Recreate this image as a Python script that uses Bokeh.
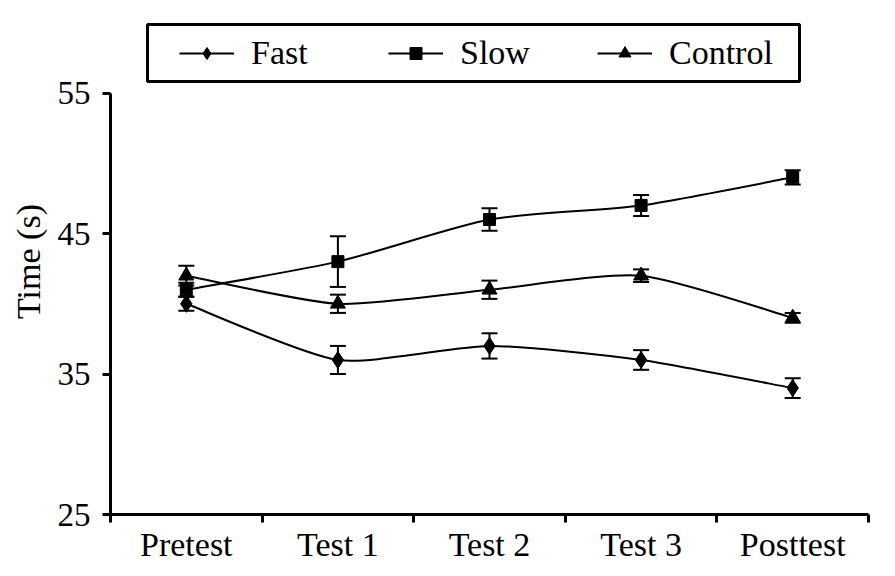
import numpy as np
from bokeh.plotting import figure
from bokeh.models import (Range1d, FixedTicker, LinearAxis, Whisker, TeeHead,
                          ColumnDataSource, Legend, LegendItem, BoxAnnotation)
from bokeh.embed import file_html
from bokeh.resources import INLINE

# ---- data ----
categories = ["Pretest", "Test 1", "Test 2", "Test 3", "Posttest"]
fast = [40.0, 36.0, 37.0, 36.0, 34.0]
fast_err = [0.5, 1.0, 0.9, 0.7, 0.7]
slow = [41.0, 43.0, 46.0, 47.0, 49.0]
slow_err = [0.5, 1.8, 0.8, 0.75, 0.5]
control = [42.0, 40.0, 41.0, 42.0, 39.0]
control_err = [0.7, 0.65, 0.65, 0.45, 0.35]
y_ticks = [25, 35, 45, 55]

FONT = "Liberation Serif"
xpos = np.arange(len(categories)) + 0.5

p = figure(width=885, height=566, output_backend="svg", toolbar_location=None,
           x_range=Range1d(0, len(categories)), y_range=Range1d(25, 61.02),
           min_border_left=110, min_border_right=17, min_border_top=8,
           min_border_bottom=52, x_axis_type=None, y_axis_type=None)
p.outline_line_color = None
p.background_fill_color = "white"

# y axis
yaxis = LinearAxis(ticker=FixedTicker(ticks=y_ticks, minor_ticks=[]),
                   bounds=(y_ticks[0], y_ticks[-1]), axis_label="Time (s)")
yaxis.axis_line_width = 3
yaxis.major_tick_line_width = 3
yaxis.major_tick_out = 8
yaxis.major_tick_in = 0
yaxis.minor_tick_out = 0
yaxis.minor_tick_in = 0
yaxis.major_label_standoff = 12
yaxis.major_label_text_font = FONT
yaxis.major_label_text_font_size = "33px"
yaxis.major_label_text_color = "black"
yaxis.axis_label_text_font = FONT
yaxis.axis_label_text_font_size = "34px"
yaxis.axis_label_text_font_style = "normal"
yaxis.axis_label_text_color = "black"
yaxis.axis_label_standoff = 8
p.add_layout(yaxis, "left")

# x axis: labels at category centres, ticks at category boundaries
xaxis = LinearAxis(ticker=FixedTicker(ticks=list(xpos),
                                      minor_ticks=list(range(len(categories) + 1))))
xaxis.major_label_overrides = {float(x): c for x, c in zip(xpos, categories)}
xaxis.axis_line_width = 3
xaxis.major_tick_out = 0
xaxis.major_tick_in = 0
xaxis.minor_tick_out = 8
xaxis.minor_tick_in = 0
xaxis.minor_tick_line_width = 3
xaxis.minor_tick_line_color = "black"
xaxis.major_label_standoff = 3
xaxis.major_label_text_font = FONT
xaxis.major_label_text_font_size = "34px"
xaxis.major_label_text_color = "black"
p.add_layout(xaxis, "below")

TENSION = 1.0 / 9.0


def smooth_segments(y):
    P = np.column_stack([xpos, np.asarray(y, dtype=float)])
    n = len(P)
    ext = np.vstack([P[0], P, P[-1]])
    c0 = P[:-1] + (ext[2:n + 1] - ext[0:n - 1]) * TENSION
    c1 = P[1:] - (ext[3:n + 2] - ext[1:n]) * TENSION
    return dict(x0=P[:-1, 0], y0=P[:-1, 1], x1=P[1:, 0], y1=P[1:, 1],
                cx0=c0[:, 0], cy0=c0[:, 1], cx1=c1[:, 0], cy1=c1[:, 1])


series = [
    ("Fast", fast, fast_err, dict(marker="diamond", size=17)),
    ("Slow", slow, slow_err, dict(marker="square", size=12)),
    ("Control", control, control_err, dict(marker="triangle", size=15)),
]

items = []
for name, vals, errs, mk in series:
    seg = ColumnDataSource(smooth_segments(vals))
    br = p.bezier(x0="x0", y0="y0", x1="x1", y1="y1", cx0="cx0", cy0="cy0",
                  cx1="cx1", cy1="cy1", source=seg, line_color="black", line_width=2)
    src = ColumnDataSource(dict(x=xpos, y=vals,
                                lower=np.array(vals) - np.array(errs),
                                upper=np.array(vals) + np.array(errs)))
    w = Whisker(source=src, base="x", lower="lower", upper="upper",
                line_color="black", line_width=2,
                upper_head=TeeHead(size=16, line_width=2, line_color="black"),
                lower_head=TeeHead(size=16, line_width=2, line_color="black"))
    p.add_layout(w)
    sr = p.scatter(x="x", y="y", source=src, fill_color="black",
                   line_color="black", **mk)
    items.append(LegendItem(label=name, renderers=[br, sr]))

legend = Legend(items=items, orientation="horizontal", location=(69, 442),
                border_line_color=None, background_fill_alpha=0, padding=0,
                margin=0, spacing=33, glyph_width=55, glyph_height=30,
                label_width=104, label_height=38, label_standoff=17,
                label_text_font=FONT, label_text_font_size="34px",
                label_text_color="black")
p.add_layout(legend, "center")

box = BoxAnnotation(left=147, right=799, top=24, bottom=81,
                    left_units="canvas", right_units="canvas",
                    top_units="canvas", bottom_units="canvas",
                    fill_alpha=0, line_color="black", line_alpha=1.0,
                    line_width=3)
p.add_layout(box)

open("out.html", "w").write(file_html(p, INLINE))
